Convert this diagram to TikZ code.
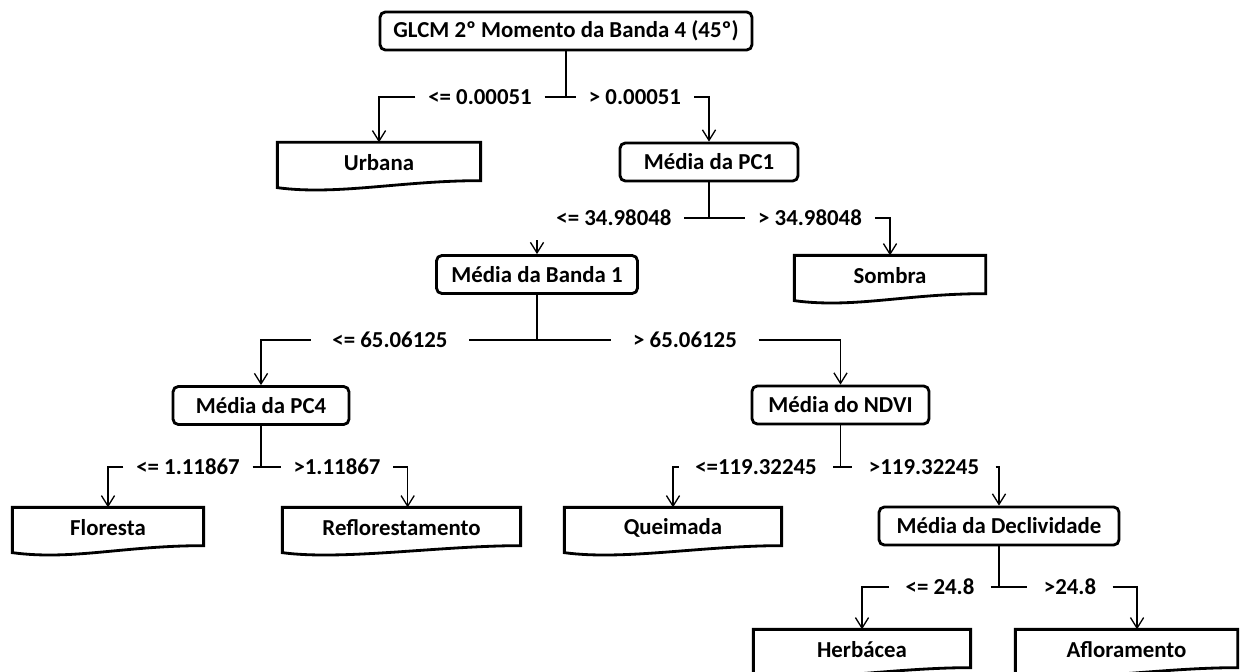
\documentclass[tikz,border=0pt]{standalone}
\usepackage{fontspec}
\setmainfont{Carlito}
\usetikzlibrary{arrows.meta}
\usetikzlibrary{positioning}
\tikzset{>={Straight Barb[length=6pt,width=7.5pt]}}

\begin{document}
\begin{tikzpicture}[x=0.02cm,y=-0.02cm,
    font=\bfseries\fontsize{13}{15}\selectfont,
    decision/.style={draw, line width=1.6pt, rounded corners=3pt, minimum height=0.76cm, inner sep=0pt},
    leaf/.style={inner sep=0pt, minimum height=0.8cm},
    cond/.style={inner xsep=7pt, inner ysep=0pt},
    every path/.style={line width=0.75pt}]
	\useasboundingbox (0,0) rectangle (1250,672);
	% nos de decisao
	\node[decision, minimum width=7.44cm] (root) at (566,31) {GLCM 2º Momento da Banda 4 (45º)};
	\node[decision, minimum width=3.56cm] (pc1) at (709,162) {Média da PC1};
	\node[decision, minimum width=4.02cm] (b1) at (537,274.5) {Média da Banda 1};
	\node[decision, minimum width=3.52cm] (pc4) at (261,405.5) {Média da PC4};
	\node[decision, minimum width=3.54cm] (ndvi) at (840.5,405) {Média do NDVI};
	\node[decision, minimum width=4.8cm] (decl) at (999,526) {Média da Declividade};
	% folhas
	\node[leaf, minimum width=4.04cm] (urb) at (379,163) {Urbana};
	\node[leaf, minimum width=3.8cm] (som) at (890,276) {Sombra};
	\node[leaf, minimum width=3.8cm] (flo) at (108,528) {Floresta};
	\node[leaf, minimum width=4.74cm] (ref) at (401.5,528) {Reflorestamento};
	\node[leaf, minimum width=4.32cm] (que) at (673,528) {Queimada};
	\node[leaf, minimum width=4.32cm] (her) at (862,650) {Herbácea};
	\node[leaf, minimum width=4.42cm] (afl) at (1126.5,650) {Afloramento};
	\foreach \n in {urb,som,flo,ref,que,her,afl}
		\draw[line width=1.6pt] (\n.north west) -- (\n.north east) -- ([shift={(0,-3)}]\n.south east)
			.. controls +(-80,0) and +(60,8) .. ([shift={(0,4)}]\n.south west) -- cycle;
	% condicoes
	\node[cond] (la) at (480,97) {<= 0.00051};
	\node[cond] (lb) at (635,97) {> 0.00051};
	\node[cond] (lc) at (614,218) {<= 34.98048};
	\node[cond] (ld) at (810,218) {> 34.98048};
	\node[cond, inner xsep=12pt] (le) at (390,340) {<= 65.06125};
	\node[cond, inner xsep=12pt] (lf) at (685,340) {> 65.06125};
	\node[cond] (lg) at (188,467) {<= 1.11867};
	\node[cond] (lh) at (337,467) {>1.11867};
	\node[cond, inner xsep=9pt] (li) at (756,467) {<=119.32245};
	\node[cond, inner xsep=9pt] (lj) at (924,467) {>119.32245};
	\node[cond, inner xsep=9pt] (lk) at (940,587) {<= 24.8};
	\node[cond, inner xsep=9pt] (ll) at (1070,587) {>24.8};
	\coordinate (b1in) at (537,240);
	% ligacoes
	\draw (root.south) -- (root.south |- la.center);
	\draw (la.east) -- (lb.west);
	\draw[->] (la.west) -| (urb.north);
	\draw[->] (lb.east) -| (pc1.north);
	\draw (pc1.south) -- (pc1.south |- lc.center);
	\draw (lc.east) -- (ld.west);
	\draw[->] (ld.east) -| (som.north);
	\draw[->] (b1in) -- (b1.north);
	\draw (b1.south) -- (b1.south |- le.center);
	\draw (le.east) -- (lf.west);
	\draw[->] (le.west) -| (pc4.north);
	\draw[->] (lf.east) -| (ndvi.north);
	\draw (pc4.south) -- (pc4.south |- lg.center);
	\draw (lg.east) -- (lh.west);
	\draw[->] (lg.west) -| (flo.north);
	\draw[->] (lh.east) -| ([xshift=3.5pt]ref.north);
	\draw (ndvi.south) -- (ndvi.south |- li.center);
	\draw (li.east) -- (lj.west);
	\draw[->] (li.west) -| (que.north);
	\draw[->] (lj.east) -| (decl.north);
	\draw (decl.south) -- (decl.south |- lk.center);
	\draw (lk.east) -- (ll.west);
	\draw[->] (lk.west) -| (her.north);
	\draw[->] (ll.east) -| ([xshift=6pt]afl.north);
\end{tikzpicture}
\end{document}
